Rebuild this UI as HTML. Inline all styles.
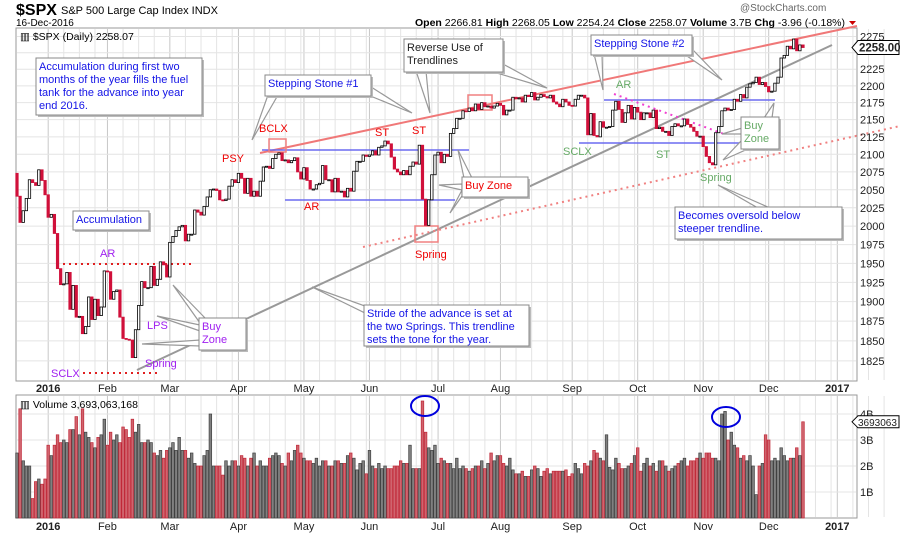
<!DOCTYPE html>
<html><head><meta charset="utf-8"><style>
html,body{margin:0;padding:0;background:#fff;}
svg{display:block;font-family:"Liberation Sans",sans-serif;}
</style></head><body>
<svg id="chart" width="900" height="534" viewBox="0 0 900 534">
<rect width="900" height="534" fill="#fff"/>
<g id="grid"></g>
<rect x="16" y="28" width="841" height="353" fill="none" stroke="#999"/>
<rect x="16" y="395" width="841" height="123" fill="none" stroke="#999"/>
<g id="annotLines">
  <line x1="260" y1="153" x2="857" y2="26" stroke="#f07878" stroke-width="2"/>
  <line x1="137" y1="370" x2="832" y2="45" stroke="#999" stroke-width="2"/>
  <line x1="363" y1="247" x2="900" y2="126" stroke="#f08080" stroke-width="2" stroke-dasharray="2,4"/>
  <line x1="262" y1="150" x2="469" y2="150" stroke="#6b6bf0" stroke-width="1.5"/>
  <line x1="285" y1="200" x2="455" y2="200" stroke="#6b6bf0" stroke-width="1.5"/>
  <line x1="604" y1="100" x2="775" y2="100" stroke="#6b6bf0" stroke-width="1.5"/>
  <line x1="579" y1="143" x2="741" y2="143" stroke="#6b6bf0" stroke-width="1.5"/>
  <line x1="63" y1="264" x2="192" y2="264" stroke="#e02020" stroke-width="2" stroke-dasharray="2,4"/>
  <line x1="83" y1="373" x2="160" y2="373" stroke="#e02020" stroke-width="2" stroke-dasharray="2,4"/>
  <line x1="614" y1="94" x2="724" y2="134" stroke="#f040d0" stroke-width="2" stroke-dasharray="2,4"/>
  <rect x="269" y="139" width="17" height="13" fill="none" stroke="#f08080" stroke-width="1.5"/>
  <rect x="415" y="226" width="23" height="16" fill="none" stroke="#f08080" stroke-width="1.5"/>
  <rect x="468" y="95" width="24" height="15" fill="none" stroke="#f08080" stroke-width="1.5"/>
</g>
<g id="candles"></g>
<g id="vols"></g>
<g id="callouts"></g>
<ellipse cx="425" cy="406" rx="14" ry="10" fill="none" stroke="#0000dd" stroke-width="2"/>
<ellipse cx="726" cy="417" rx="14" ry="10" fill="none" stroke="#0000dd" stroke-width="2"/>
<g id="axes" font-size="11" fill="#222"></g>
<g>
  <text x="16" y="15" font-size="16" font-weight="bold">$SPX</text>
  <text x="61" y="14" font-size="11">S&amp;P 500 Large Cap Index  INDX</text>
  <text x="16" y="26" font-size="10">16-Dec-2016</text>
  <text x="740" y="11" font-size="10" fill="#666">@StockCharts.com</text>
  <text x="845" y="26" font-size="10.5" text-anchor="end"><tspan font-weight="bold">Open</tspan> 2266.81  <tspan font-weight="bold">High</tspan> 2268.05  <tspan font-weight="bold">Low</tspan> 2254.24  <tspan font-weight="bold">Close</tspan> 2258.07  <tspan font-weight="bold">Volume</tspan> 3.7B  <tspan font-weight="bold">Chg</tspan> -3.96 (-0.18%)</text>
  <path d="M849 21 L856 21 L852.5 25 Z" fill="#c00"/>
  <text x="20" y="40" font-size="10.5">▥ $SPX (Daily) 2258.07</text>
  <text x="20" y="408" font-size="10.5">▥ Volume 3,693,063,168</text>
</g>
<g id="labels" font-size="11">
  <text x="222" y="162" fill="#e00">PSY</text>
  <text x="259" y="132" fill="#e00">BCLX</text>
  <text x="375" y="136" fill="#e00">ST</text>
  <text x="412" y="134" fill="#e00">ST</text>
  <text x="304" y="210" fill="#e00">AR</text>
  <text x="415" y="258" fill="#e00">Spring</text>
  <text x="563" y="155" fill="#6a6">SCLX</text>
  <text x="616" y="88" fill="#6a6">AR</text>
  <text x="656" y="158" fill="#6a6">ST</text>
  <text x="700" y="181" fill="#6a6">Spring</text>
  <text x="100" y="257" fill="#a020f0">AR</text>
  <text x="147" y="329" fill="#a020f0">LPS</text>
  <text x="145" y="367" fill="#a020f0">Spring</text>
  <text x="51" y="377" fill="#a020f0">SCLX</text>
</g>
</svg>
<script>
const closes=[2041,2005,2021,2038,2064,2060,2056,2078,2063,2043,
2012,2016,1990,1943,1922,1923,1938,1890,1921,1880,1881,1859,1868,1906,1877,1903,1882,1893,1940,
1939,1903,1913,1915,1880,1853,1852,1851,1829,1864,1895,1926,1918,1918,1946,1921,1929,1952,1948,1932,
1978,1986,1994,1999,2001,1980,1989,1989,2022,2019,2015,2027,2040,2050,2051,2049,2036,2035,2037,2055,2064,2060,
2073,2066,2045,2066,2041,2048,2041,2062,2082,2083,2080,2094,2100,2102,2091,2092,2088,2091,2095,2075,2065,
2081,2063,2051,2051,2057,2059,2084,2064,2064,2047,2066,2047,2048,2040,2052,2048,2076,2090,2090,2099,2097,
2099,2105,2099,2110,2112,2119,2115,2096,2079,2075,2071,2077,2071,2083,2089,2086,2113,2037,2001,2036,2071,2099,
2103,2088,2100,2097,2130,2137,2152,2152,2163,2162,2167,2163,2173,2165,2175,2169,2170,2167,2170,2174,
2171,2157,2164,2164,2183,2181,2182,2176,2186,2184,2190,2179,2183,2187,2184,2182,2186,2176,2173,2169,2180,2176,2171,
2170,2180,2186,2186,2182,2128,2159,2127,2125,2147,2139,2139,2140,2164,2177,2165,2146,2160,2171,2151,2168,
2161,2150,2160,2160,2153,2164,2137,2139,2133,2133,2127,2140,2144,2141,2141,2151,2143,2139,2133,2126,2126,
2111,2097,2088,2085,2131,2140,2163,2167,2164,2165,2180,2177,2187,2182,2198,2203,2205,2213,2202,2205,2199,
2191,2192,2204,2213,2242,2246,2260,2256,2271,2253,2262,2258];
const firstOpen=2073;
const volumes=[2.5,4.2,2.2,2.0,2.0,0.75,1.4,1.5,1.3,1.5,
2.8,2.4,2.8,3.2,2.9,3.0,2.9,3.4,3.4,3.9,
3.2,4.2,3.3,3.1,2.9,2.7,3.1,3.2,3.8,2.8,
3.3,3.0,3.2,2.9,
3.5,3.4,3.1,3.8,3.3,3.6,2.9,2.9,3.0,2.9,
2.5,2.4,2.6,2.3,2.6,2.7,2.9,2.6,3.1,2.6,
2.6,2.3,2.5,2.1,2.0,2.0,2.4,2.6,4.0,2.0,
2.0,2.0,1.65,2.2,2.0,2.2,2.2,2.0,2.4,2.3,
2.0,2.3,2.5,2.0,2.2,2.0,2.0,2.3,2.4,2.5,
2.4,2.1,2.0,2.5,2.2,2.6,2.8,2.5,2.3,2.2,
2.2,2.1,2.3,2.0,2.2,
2.2,2.0,2.0,2.2,2.2,2.1,2.1,2.4,2.5,2.3,
1.85,2.1,2.2,1.7,2.6,2.0,1.9,2.1,1.9,2.0,
1.9,1.9,2.0,2.0,2.2,2.1,2.1,2.8,1.9,1.9,
1.9,4.5,3.3,2.7,2.6,2.8,2.1,2.3,2.2,2.1,
2.1,1.9,2.3,1.9,2.0,1.9,1.8,1.9,2.0,2.0,
2.2,1.9,2.1,2.5,2.2,2.4,2.4,2.1,2.0,2.3,
1.85,1.7,1.7,1.8,1.6,1.6,1.85,2.0,1.9,1.6,
1.8,1.9,1.7,1.8,1.8,1.8,1.8,1.85,1.6,1.7,2.1,1.9,1.7,2.1,
2.0,2.2,2.6,2.5,2.3,2.2,3.2,1.95,1.85,2.3,
2.1,1.9,1.9,2.0,2.1,2.4,2.7,1.8,2.1,2.3,
2.0,2.1,1.8,2.2,2.2,2.0,1.8,1.9,2.0,2.1,2.2,
2.3,2.0,2.2,2.2,2.3,2.5,2.3,2.5,2.5,2.3,
2.3,2.2,4.0,4.1,3.0,3.3,2.8,2.7,2.3,2.4,2.2,2.4,2.0,0.9,
2.0,2.1,3.2,3.0,2.2,2.3,2.2,2.7,2.4,2.2,2.3,2.3,2.7,2.4,3.7];
const monthStarts=[10,29,49,71,92,113,135,155,178,199,220,241,263];
const monthLabels=["2016","Feb","Mar","Apr","May","Jun","Jul","Aug","Sep","Oct","Nov","Dec","2017"];
const priceTicks=[1825,1850,1875,1900,1925,1950,1975,2000,2025,2050,2075,2100,2125,2150,2175,2200,2225,2275];
const volTicks=[1,2,3,4];
const volTickLabels=["1B","2B","3B","4B"];

const NS="http://www.w3.org/2000/svg";
const X0=17,X1=803;
const step=(X1-X0)/(closes.length-1);
function xAt(i){return X0+i*step;}
function yP(p){return 36.5+1471.6*(Math.log(2275)-Math.log(p));}
function yV(v){return 518-v*26;}
function mk(tag,attrs,parent){const e=document.createElementNS(NS,tag);for(const k in attrs)e.setAttribute(k,attrs[k]);parent.appendChild(e);return e;}
const grid=document.getElementById('grid');
const axes=document.getElementById('axes');
for(let m=0;m<monthStarts.length;m++){
  const s=monthStarts[m];
  const next=m+1<monthStarts.length?monthStarts[m+1]:s+20;
  for(let k=s;k<next;k+=5){
    const x=xAt(k);
    const c=(k===s)?'#c8c8c8':'#e4e4e4';
    const l1=mk('line',{x1:x,x2:x,y1:29,y2:380,stroke:c},grid);
    
    
    const l2=mk('line',{x1:x,x2:x,y1:396,y2:517,stroke:c},grid);
    
    
  }
  const xl=xAt(s);
  const bold=monthLabels[m].length===4;
  const t1=mk('text',{x:xl,y:392,'text-anchor':'middle','font-weight':bold?'bold':'normal'},axes);
  t1.textContent=monthLabels[m];
  
  
  const t2=mk('text',{x:xl,y:530,'text-anchor':'middle','font-weight':bold?'bold':'normal'},axes);
  t2.textContent=monthLabels[m];
  
  
}
priceTicks.concat([2250]).forEach(p=>{
  const y=yP(p);
  const l=mk('line',{x1:17,x2:856,y1:y,y2:y,stroke:'#e4e4e4'},grid);
  
  
});
priceTicks.forEach(p=>{
  const t=mk('text',{x:860,y:yP(p)+4},axes);
  t.textContent=p;
  
  
});
volTicks.forEach((v,i)=>{
  const y=yV(v);
  const l=mk('line',{x1:17,x2:856,y1:y,y2:y,stroke:'#e4e4e4'},grid);
  
  
  const t=mk('text',{x:860,y:y+4},axes);
  t.textContent=volTickLabels[i];
  
  
});
const last=closes[closes.length-1];
const ty=yP(last);
const tag=mk('path',{d:`M852 ${ty} L858 ${ty-7} L899 ${ty-7} L899 ${ty+7} L858 ${ty+7} Z`,fill:'#fff',stroke:'#000'},axes);


const tt=mk('text',{x:859,y:ty+4,'font-weight':'bold','font-size':'11.5'},axes);
tt.textContent=last.toFixed(2);


const vy=yV(volumes[volumes.length-1]);
const vtag=mk('path',{d:`M852 ${vy} L858 ${vy-6} L899 ${vy-6} L899 ${vy+6} L858 ${vy+6} Z`,fill:'#fff',stroke:'#000'},axes);


const vt=mk('text',{x:858,y:vy+4,'font-size':'10'},axes);
vt.textContent='3693063';


const cg=document.getElementById('candles');
for(let i=0;i<closes.length;i++){
  const o=i===0?firstOpen:closes[i-1], c=closes[i];
  const up=c>=o;
  const y1=yP(Math.max(o,c)), y2=yP(Math.min(o,c));
  const x=xAt(i);
  const r=mk('rect',{x:x-1.2,y:y1,width:2.4,height:Math.max(1,y2-y1),fill:up?'#fff':'#d0103a',stroke:up?'#000':'#d0103a','stroke-width':0.8},cg);
  
  
}
const vg=document.getElementById('vols');
for(let i=0;i<volumes.length;i++){
  const pi=Math.min(i,closes.length-1);
  const down=pi>0&&closes[pi]<closes[pi-1];
  const x=xAt(i), y=yV(volumes[i]);
  const b=mk('rect',{x:x-1.3,y:y,width:2.6,height:518-y,fill:down?'#d0646e':'#808080',stroke:down?'#c02838':'#404040','stroke-width':0.7},vg);
  
  
}
const co=document.getElementById('callouts');
function callout(name,x,y,w,h,lines,color,ptrs){
  const g=mk('g',{},co);
  
  
  ptrs.forEach(p=>{
    const pl=mk('polygon',{points:`${p[0]},${p[1]} ${p[2]},${p[3]} ${p[4]},${p[5]}`,fill:'#fff',stroke:'#999','stroke-width':1.2},g);
    
    
  });
  const sh=mk('rect',{x:x+2,y:y+2,width:w,height:h,fill:'#bbb'},g);
  
  
  const bx=mk('rect',{x:x,y:y,width:w,height:h,fill:'#fff',stroke:'#888'},g);
  
  
  lines.forEach((s,k)=>{
    const t=mk('text',{x:x+3,y:y+12+k*13,'font-size':11,fill:color},g);
    t.textContent=s;
    
    
  });
}
const BLUE='#1414e6';
callout('accumulation-note',36,58,166,57,['Accumulation during first two','months of the year fills the fuel','tank for the advance into year','end 2016.'],BLUE,[]);
callout('accumulation-box',73,211,76,19,['Accumulation'],BLUE,[]);
callout('stepping-stone-1',265,75,106,21,['Stepping Stone #1'],BLUE,[[252,140,268,95,278,95],[412,113,368,85,368,95]]);
callout('reverse-trendlines-note',404,39,99,33,['Reverse Use of','Trendlines'],'#222',[[430,113,416,71,426,71],[547,88,490,71,503,64]]);
callout('stepping-stone-2',591,35,101,20,['Stepping Stone #2'],BLUE,[[603,90,594,54,602,54],[722,80,684,54,691,48]]);
callout('buy-zone-red',462,177,66,20,['Buy Zone'],'#e00',[[458,150,464,178,472,178],[439,185,462,184,462,190],[450,213,462,190,462,196]]);
callout('buy-zone-green',741,117,38,32,['Buy','Zone'],'#6a6',[[774,103,764,118,772,118],[722,134,742,128,742,134],[723,160,742,140,750,148]]);
callout('oversold-note',675,207,167,32,['Becomes oversold below','steeper trendline.'],BLUE,[[718,185,758,208,770,208]]);
callout('stride-note',364,305,165,41,['Stride of the advance is set at','the two Springs. This trendline','sets the tone for the year.'],BLUE,[[312,287,365,306,365,313]]);
callout('buy-zone-purple',199,318,47,32,['Buy','Zone'],'#a020f0',[[173,285,200,323,206,319],[157,316,200,325,200,331],[142,344,200,340,200,346]]);
</script>
</body></html>
